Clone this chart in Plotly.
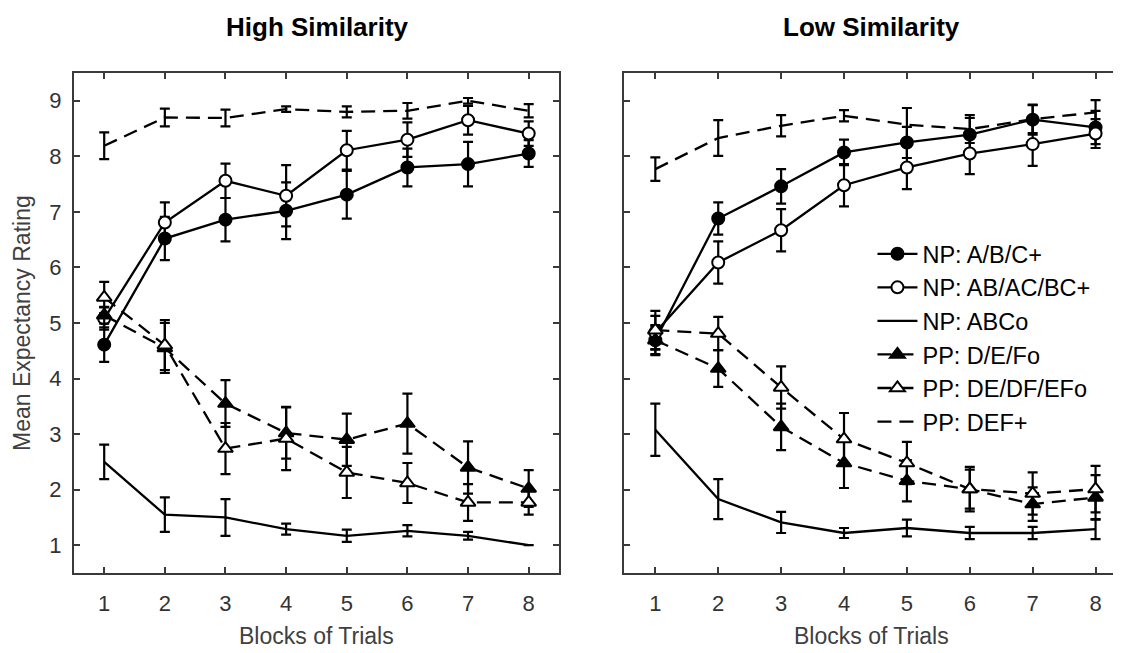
import plotly.graph_objects as go

blocks = [1, 2, 3, 4, 5, 6, 7, 8]
series_names = ["NP: A/B/C+", "NP: AB/AC/BC+", "NP: ABCo", "PP: D/E/Fo", "PP: DE/DF/EFo", "PP: DEF+"]

# High Similarity (left panel)
hi_abc = [4.61, 6.52, 6.86, 7.02, 7.31, 7.80, 7.86, 8.05]
hi_abc_err = [0.31, 0.39, 0.39, 0.51, 0.43, 0.34, 0.40, 0.24]
hi_ab = [5.08, 6.81, 7.56, 7.29, 8.11, 8.30, 8.65, 8.41]
hi_ab_err = [0.20, 0.36, 0.31, 0.55, 0.35, 0.31, 0.26, 0.22]
hi_abco = [2.50, 1.55, 1.50, 1.29, 1.17, 1.26, 1.17, 1.00]
hi_abco_err = [0.31, 0.31, 0.33, 0.10, 0.11, 0.10, 0.07, 0.0]
hi_def = [5.14, 4.55, 3.55, 3.02, 2.90, 3.19, 2.40, 2.02]
hi_def_err = [0.15, 0.45, 0.42, 0.46, 0.47, 0.54, 0.47, 0.33]
hi_de = [5.46, 4.60, 2.74, 2.92, 2.31, 2.12, 1.77, 1.77]
hi_de_err = [0.28, 0.45, 0.46, 0.57, 0.46, 0.36, 0.33, 0.22]
hi_defp = [8.19, 8.70, 8.69, 8.85, 8.80, 8.82, 9.00, 8.82]
hi_defp_err = [0.24, 0.16, 0.15, 0.05, 0.10, 0.14, 0.05, 0.12]

# Low Similarity (right panel)
lo_abc = [4.69, 6.88, 7.46, 8.07, 8.25, 8.39, 8.66, 8.52]
lo_abc_err = [0.25, 0.29, 0.31, 0.23, 0.28, 0.30, 0.27, 0.30]
lo_ab = [4.83, 6.09, 6.67, 7.48, 7.80, 8.05, 8.22, 8.41]
lo_ab_err = [0.30, 0.38, 0.38, 0.38, 0.39, 0.37, 0.39, 0.26]
lo_abco = [3.08, 1.83, 1.41, 1.22, 1.31, 1.22, 1.22, 1.29]
lo_abco_err = [0.47, 0.36, 0.19, 0.09, 0.15, 0.11, 0.11, 0.18]
lo_def = [4.69, 4.18, 3.13, 2.48, 2.16, 2.01, 1.74, 1.86]
lo_def_err = [0.27, 0.33, 0.42, 0.45, 0.37, 0.35, 0.30, 0.40]
lo_de = [4.87, 4.81, 3.84, 2.91, 2.48, 2.01, 1.93, 2.01]
lo_de_err = [0.35, 0.30, 0.38, 0.47, 0.38, 0.40, 0.38, 0.42]
lo_defp = [7.77, 8.33, 8.55, 8.73, 8.57, 8.49, 8.67, 8.79]
lo_defp_err = [0.21, 0.32, 0.19, 0.10, 0.30, 0.25, 0.25, 0.22]

DASH = "14px,8px"
styles = [
    dict(dash="solid", symbol="circle", fill="black"),
    dict(dash="solid", symbol="circle", fill="white"),
    dict(dash="solid", symbol=None, fill=None),
    dict(dash=DASH, symbol="triangle-up", fill="black"),
    dict(dash=DASH, symbol="triangle-up", fill="white"),
    dict(dash=DASH, symbol=None, fill=None),
]

hi_vals = [hi_abc, hi_ab, hi_abco, hi_def, hi_de, hi_defp]
hi_errs = [hi_abc_err, hi_ab_err, hi_abco_err, hi_def_err, hi_de_err, hi_defp_err]
lo_vals = [lo_abc, lo_ab, lo_abco, lo_def, lo_de, lo_defp]
lo_errs = [lo_abc_err, lo_ab_err, lo_abco_err, lo_def_err, lo_de_err, lo_defp_err]

fig = go.Figure()

def add_panel(vals, errs, xa, ya, show):
    for name, v, e, st in zip(series_names, vals, errs, styles):
        mode = "lines+markers" if st["symbol"] else "lines"
        marker = dict(size=12 if st["symbol"] == "circle" else 13,
                      symbol=st["symbol"] or "circle", color=st["fill"] or "black",
                      line=dict(color="black", width=2))
        fig.add_trace(go.Scatter(
            x=blocks, y=v, name=name, mode=mode,
            line=dict(color="black", width=2.3, dash=st["dash"]),
            marker=marker,
            error_y=dict(type="data", array=e, visible=True, color="black",
                         thickness=2.2, width=5),
            xaxis=xa, yaxis=ya, showlegend=show, legendgroup=name,
        ))

add_panel(hi_vals, hi_errs, "x", "y", False)
add_panel(lo_vals, lo_errs, "x2", "y2", True)

W, H = 1121, 653
OFF = 8  # page body margin offset
axcol = "#3a3a3a"
FONT = "Liberation Sans, Arial, Helvetica"
common = dict(ticks="inside", ticklen=6, tickwidth=1.5, tickcolor=axcol,
              showline=True, linewidth=2, linecolor=axcol, mirror="ticks",
              showgrid=False, zeroline=False,
              tickfont=dict(family=FONT, size=22, color="#333333"))

def px(x):
    return (x - OFF) / W

def py(y):
    return 1 - (y - OFF) / H

ydom = [py(573), py(73)]

fig.update_layout(
    width=W, height=H,
    margin=dict(l=0, r=0, t=0, b=0),
    paper_bgcolor="white", plot_bgcolor="white",
    font=dict(family=FONT, color="black"),
    xaxis=dict(domain=[px(74), px(560)], range=[0.5, 8.5], tickvals=blocks, anchor="y",
               ticklabelstandoff=10, **common),
    yaxis=dict(domain=ydom, range=[0.5, 9.5], tickvals=list(range(1, 10)), anchor="x",
               ticklabelstandoff=6, **common),
    xaxis2=dict(domain=[px(625), 1.0], range=[0.5, 8.5], tickvals=blocks, anchor="y2",
                ticklabelstandoff=10, **common),
    yaxis2=dict(domain=ydom, range=[0.5, 9.5], tickvals=list(range(1, 10)), anchor="x2",
                showticklabels=False, **common),
    legend=dict(x=px(874), y=py(232), xanchor="left", yanchor="top",
                bgcolor="rgba(0,0,0,0)", borderwidth=0, itemwidth=40,
                traceorder="grouped", tracegroupgap=0,
                font=dict(family=FONT, size=23.5, color="black")),
    showlegend=True,
    annotations=[
        dict(text="<b>High Similarity</b>", x=px(318), y=py(27), xref="paper", yref="paper",
             showarrow=False, font=dict(family=FONT, size=26, color="black"),
             xanchor="center", yanchor="middle"),
        dict(text="<b>Low Similarity</b>", x=px(873), y=py(27), xref="paper", yref="paper",
             showarrow=False, font=dict(family=FONT, size=26, color="black"),
             xanchor="center", yanchor="middle"),
        dict(text="Blocks of Trials", x=px(317), y=py(636), xref="paper", yref="paper",
             showarrow=False, font=dict(family=FONT, size=23, color="#404040"),
             xanchor="center", yanchor="middle"),
        dict(text="Blocks of Trials", x=px(873), y=py(636), xref="paper", yref="paper",
             showarrow=False, font=dict(family=FONT, size=23, color="#404040"),
             xanchor="center", yanchor="middle"),
        dict(text="Mean Expectancy Rating", x=px(22), y=py(323), xref="paper", yref="paper",
             showarrow=False, textangle=-90, font=dict(family=FONT, size=23, color="#404040"),
             xanchor="center", yanchor="middle"),
    ],
)

fig.write_html("out.html")
